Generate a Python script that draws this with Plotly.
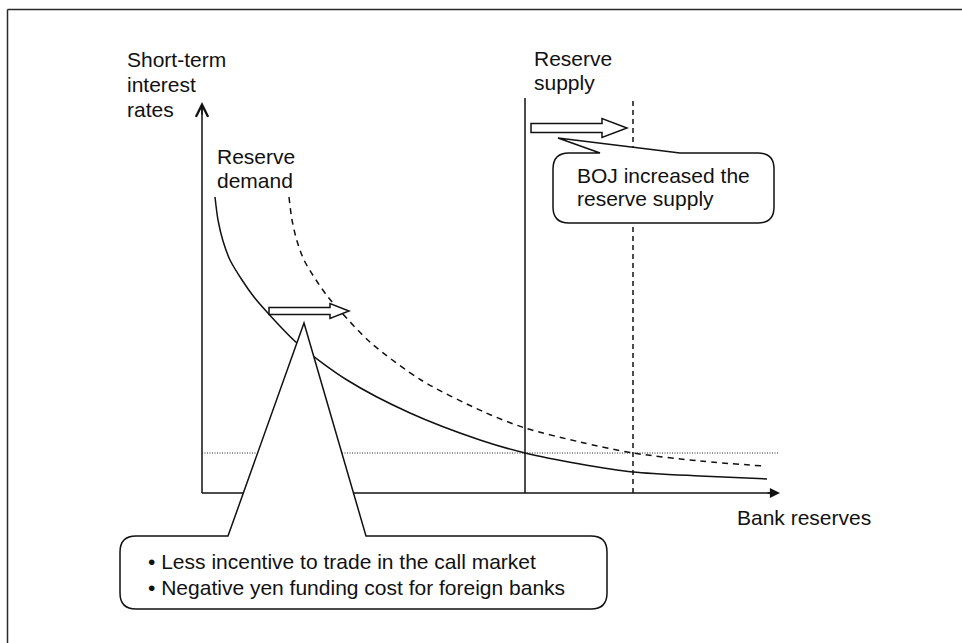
import plotly.graph_objects as go

# ---------------- data (diagram units: x = bank reserves, y = short-term rate) -------------
demand_x = [13, 16, 21, 28, 40, 52, 65, 95, 145, 208, 278, 323, 378, 431, 498, 565]
demand_y = [296, 273, 252, 233, 213, 196, 181, 150, 113, 80, 53, 40, 29, 21, 17, 14]

demand_new_x = [87, 90, 95, 102, 114, 126, 139, 169, 219, 282, 323, 378, 431, 498, 561]
demand_new_y = [296, 273, 252, 233, 213, 196, 181, 150, 113, 81, 65, 51, 40, 32, 27]

supply_levels = [323, 431]          # before / after BOJ increase
supply_top = 395
policy_rate = 40
rate_line_end = 577
x_axis_end = 578
y_axis_end = 391

# ---------------- helpers (pixel -> diagram units) ----------------
OX, OY = 202, 493
W, H = 962, 643


def px(p):
    return p - OX


def py(p):
    return OY - p


FONT = dict(family="Liberation Sans, Arial, Helvetica, sans-serif", size=21, color="#111111")
INK = "#111111"

fig = go.Figure()

# axes lines (below callouts)
fig.add_trace(go.Scatter(x=[0, 0], y=[y_axis_end - 2, 0], mode="lines",
                         line=dict(color=INK, width=1.5), hoverinfo="skip"))
fig.add_trace(go.Scatter(x=[0, x_axis_end - 6], y=[0, 0], mode="lines",
                         line=dict(color=INK, width=1.5), hoverinfo="skip"))

# policy rate dotted line
fig.add_trace(go.Scatter(x=[0, rate_line_end], y=[policy_rate, policy_rate], mode="lines",
                         line=dict(color="#222222", width=1, dash="1px,1.5px"), hoverinfo="skip"))

# supply lines
fig.add_trace(go.Scatter(x=[supply_levels[0]] * 2, y=[0, supply_top], mode="lines",
                         line=dict(color=INK, width=1.5), hoverinfo="skip"))
fig.add_trace(go.Scatter(x=[supply_levels[1]] * 2, y=[0, supply_top], mode="lines",
                         line=dict(color=INK, width=1.5, dash="5px,4px"), hoverinfo="skip"))

# demand curves
fig.add_trace(go.Scatter(x=demand_x, y=demand_y, mode="lines", line_shape="spline",
                         line=dict(color=INK, width=1.5, smoothing=0.8), hoverinfo="skip"))
fig.add_trace(go.Scatter(x=demand_new_x, y=demand_new_y, mode="lines", line_shape="spline",
                         line=dict(color=INK, width=1.5, dash="6px,5px", smoothing=0.8), hoverinfo="skip"))


def block_arrow(xs, xe, y, sh, hh, hl):
    xb = xe - hl
    return (f"M{xs},{y+sh} L{xb},{y+sh} L{xb},{y+hh} L{xe},{y} "
            f"L{xb},{y-hh} L{xb},{y-sh} L{xs},{y-sh} Z")


def callout(x0, x1, ytop, ybot, r, tl, tr, ax, ay):
    return (f"M{x0+r},{ytop} L{tl},{ytop} L{ax},{ay} L{tr},{ytop} L{x1-r},{ytop} "
            f"Q{x1},{ytop} {x1},{ytop-r} L{x1},{ybot+r} Q{x1},{ybot} {x1-r},{ybot} "
            f"L{x0+r},{ybot} Q{x0},{ybot} {x0},{ybot+r} L{x0},{ytop-r} Q{x0},{ytop} {x0+r},{ytop} Z")


shape_style = dict(type="path", xref="x", yref="y", layer="above",
                   line=dict(color=INK, width=1.5), fillcolor="white")

# block arrows
fig.add_shape(path=block_arrow(px(269), px(349), py(311), 3.5, 7.5, 19), **shape_style)
fig.add_shape(path=block_arrow(px(531), px(627), py(128), 4.5, 9.5, 25), **shape_style)

# callouts
fig.add_shape(path=callout(px(553), px(774), py(153), py(223), 16, px(600), px(680), px(558), py(138)),
              **shape_style)
fig.add_shape(path=callout(px(120), px(607), py(536), py(609), 16, px(228), px(366), px(304), py(323)),
              **shape_style)

# outer frame (partially cropped)
fig.add_shape(type="line", xref="paper", yref="paper", x0=7.5 / W, x1=7.5 / W, y0=-0.1, y1=1 - 9.5 / H,
              line=dict(color="#2a2a2a", width=1.5))
fig.add_shape(type="line", xref="paper", yref="paper", x0=7.5 / W, x1=1.1, y0=1 - 9.5 / H, y1=1 - 9.5 / H,
              line=dict(color="#2a2a2a", width=1.5))

# arrowheads for axes
fig.add_annotation(x=x_axis_end, y=0, ax=x_axis_end - 14, ay=0, axref="x", ayref="y", xref="x", yref="y",
                   text="", showarrow=True, arrowhead=2, arrowsize=1.35, arrowwidth=1.5, arrowcolor=INK)
fig.add_annotation(x=0, y=y_axis_end, ax=0, ay=y_axis_end - 14, axref="x", ayref="y", xref="x", yref="y",
                   text="", showarrow=True, arrowhead=5, arrowsize=1.6, arrowwidth=1.5, arrowcolor=INK)


def text_lines(lines, xl, yc0, spacing):
    for i, t in enumerate(lines):
        fig.add_annotation(x=px(xl), y=py(yc0 + i * spacing), xref="x", yref="y", text=t,
                           showarrow=False, xanchor="left", yanchor="middle", font=FONT, borderpad=0)


text_lines(["Short-term", "interest", "rates"], 126, 59, 25)
text_lines(["Reserve", "demand"], 216, 156, 24)
text_lines(["Reserve", "supply"], 533, 58, 24)
text_lines(["BOJ increased the", "reserve supply"], 576, 175, 23)
text_lines(["\u2022 Less incentive to trade in the call market",
            "\u2022 Negative yen funding cost for foreign banks"], 147, 561, 26)
text_lines(["Bank reserves"], 736, 517, 0)

fig.update_layout(
    width=W, height=H, margin=dict(l=0, r=0, t=0, b=0),
    paper_bgcolor="white", plot_bgcolor="white", showlegend=False,
    xaxis=dict(range=[px(0), px(W)], visible=False, fixedrange=True),
    yaxis=dict(range=[py(H), py(0)], visible=False, fixedrange=True),
)

fig.write_html("out.html", config={"displayModeBar": False, "staticPlot": True},
               post_script="document.body.style.margin='0px';document.body.style.padding='0px';")
